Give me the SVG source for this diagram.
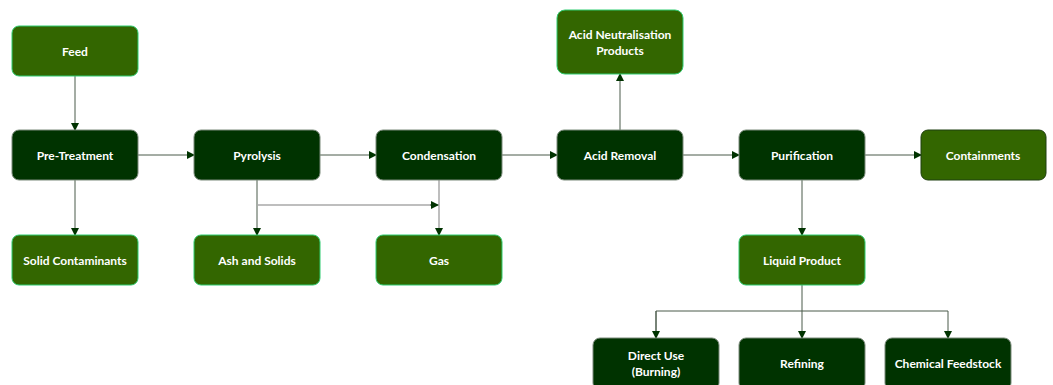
<svg xmlns="http://www.w3.org/2000/svg" width="1053" height="385" viewBox="0 0 1053 385">
<style>
.dark{fill:#003300;stroke:#7a8a7a;stroke-width:1}
.light{fill:#336600;stroke:#2ecc71;stroke-width:1}
.lightd{fill:#336600;stroke:#1f3f10;stroke-width:1}
text{font-family:Lato,"Open Sans","Liberation Sans",sans-serif;font-weight:bold;font-size:12px;fill:#ffffff;text-anchor:middle;dominant-baseline:central}
.c{fill:none;stroke:#4a5a4a;stroke-width:1}
.g{fill:none;stroke:#a8a8a8;stroke-width:1.5}
</style>
<defs>
<marker id="ah" markerWidth="8" markerHeight="8" refX="7" refY="4" orient="auto" markerUnits="userSpaceOnUse">
<path d="M0,0 L8,4 L0,8 Z" fill="#003300"/>
</marker>
</defs>
<rect width="1053" height="385" fill="#ffffff"/>
<g id="connectors">
<path class="c" d="M75,76 V130" marker-end="url(#ah)"/>
<path class="c" d="M75,180 V235" marker-end="url(#ah)"/>
<path class="c" d="M138,155 H194" marker-end="url(#ah)"/>
<path class="c" d="M320,155 H376" marker-end="url(#ah)"/>
<path class="c" d="M502,155 H557" marker-end="url(#ah)"/>
<path class="c" d="M683,155 H739" marker-end="url(#ah)"/>
<path class="c" d="M865,155 H921" marker-end="url(#ah)"/>
<path class="c" d="M257,180 V235" marker-end="url(#ah)"/>
<path class="g" d="M439,180 V228"/>
<path class="c" d="M439,228 V235" marker-end="url(#ah)"/>
<path class="g" d="M257,205 H432"/>
<path class="c" d="M430,205 H438" marker-end="url(#ah)"/>
<path class="c" d="M620,130 V74" marker-end="url(#ah)"/>
<path class="c" d="M802,180 V235" marker-end="url(#ah)"/>
<path class="c" d="M802,285 V338" marker-end="url(#ah)"/>
<path class="c" d="M656,338 V311 H948 V338" marker-end="url(#ah)"/>
<path class="c" d="M656,311 V338" marker-end="url(#ah)"/>
</g>
<g id="feed"><rect class="light" x="12" y="26" width="126" height="50" rx="7"/><text x="75" y="51">Feed</text></g>
<g id="pretreatment"><rect class="dark" x="12" y="130" width="126" height="50" rx="7"/><text x="75" y="155">Pre-Treatment</text></g>
<g id="solid"><rect class="light" x="12" y="235" width="126" height="50" rx="7"/><text x="75" y="260">Solid Contaminants</text></g>
<g id="pyrolysis"><rect class="dark" x="194" y="130" width="126" height="50" rx="7"/><text x="257" y="155">Pyrolysis</text></g>
<g id="ash"><rect class="light" x="194" y="235" width="126" height="50" rx="7"/><text x="257" y="260">Ash and Solids</text></g>
<g id="condensation"><rect class="dark" x="376" y="130" width="126" height="50" rx="7"/><text x="439" y="155">Condensation</text></g>
<g id="gas"><rect class="light" x="376" y="235" width="126" height="50" rx="7"/><text x="439" y="260">Gas</text></g>
<g id="acidremoval"><rect class="dark" x="557" y="130" width="126" height="50" rx="7"/><text x="620" y="155">Acid Removal</text></g>
<g id="acidneut"><rect class="light" x="557" y="10" width="126" height="64" rx="8"/><text x="620" y="34">Acid Neutralisation</text><text x="620" y="50">Products</text></g>
<g id="purification"><rect class="dark" x="739" y="130" width="126" height="50" rx="7"/><text x="802" y="155">Purification</text></g>
<g id="containments"><rect class="lightd" x="921" y="130" width="125" height="50" rx="7"/><text x="983" y="155">Containments</text></g>
<g id="liquid"><rect class="light" x="739" y="235" width="126" height="50" rx="7"/><text x="802" y="260">Liquid Product</text></g>
<g id="directuse"><rect class="dark" x="593" y="338" width="126" height="52" rx="7"/><text x="656" y="355">Direct Use</text><text x="656" y="371">(Burning)</text></g>
<g id="refining"><rect class="dark" x="739" y="338" width="126" height="52" rx="7"/><text x="802" y="363">Refining</text></g>
<g id="chemical"><rect class="dark" x="885" y="338" width="126" height="52" rx="7"/><text x="948" y="363">Chemical Feedstock</text></g>
</svg>
